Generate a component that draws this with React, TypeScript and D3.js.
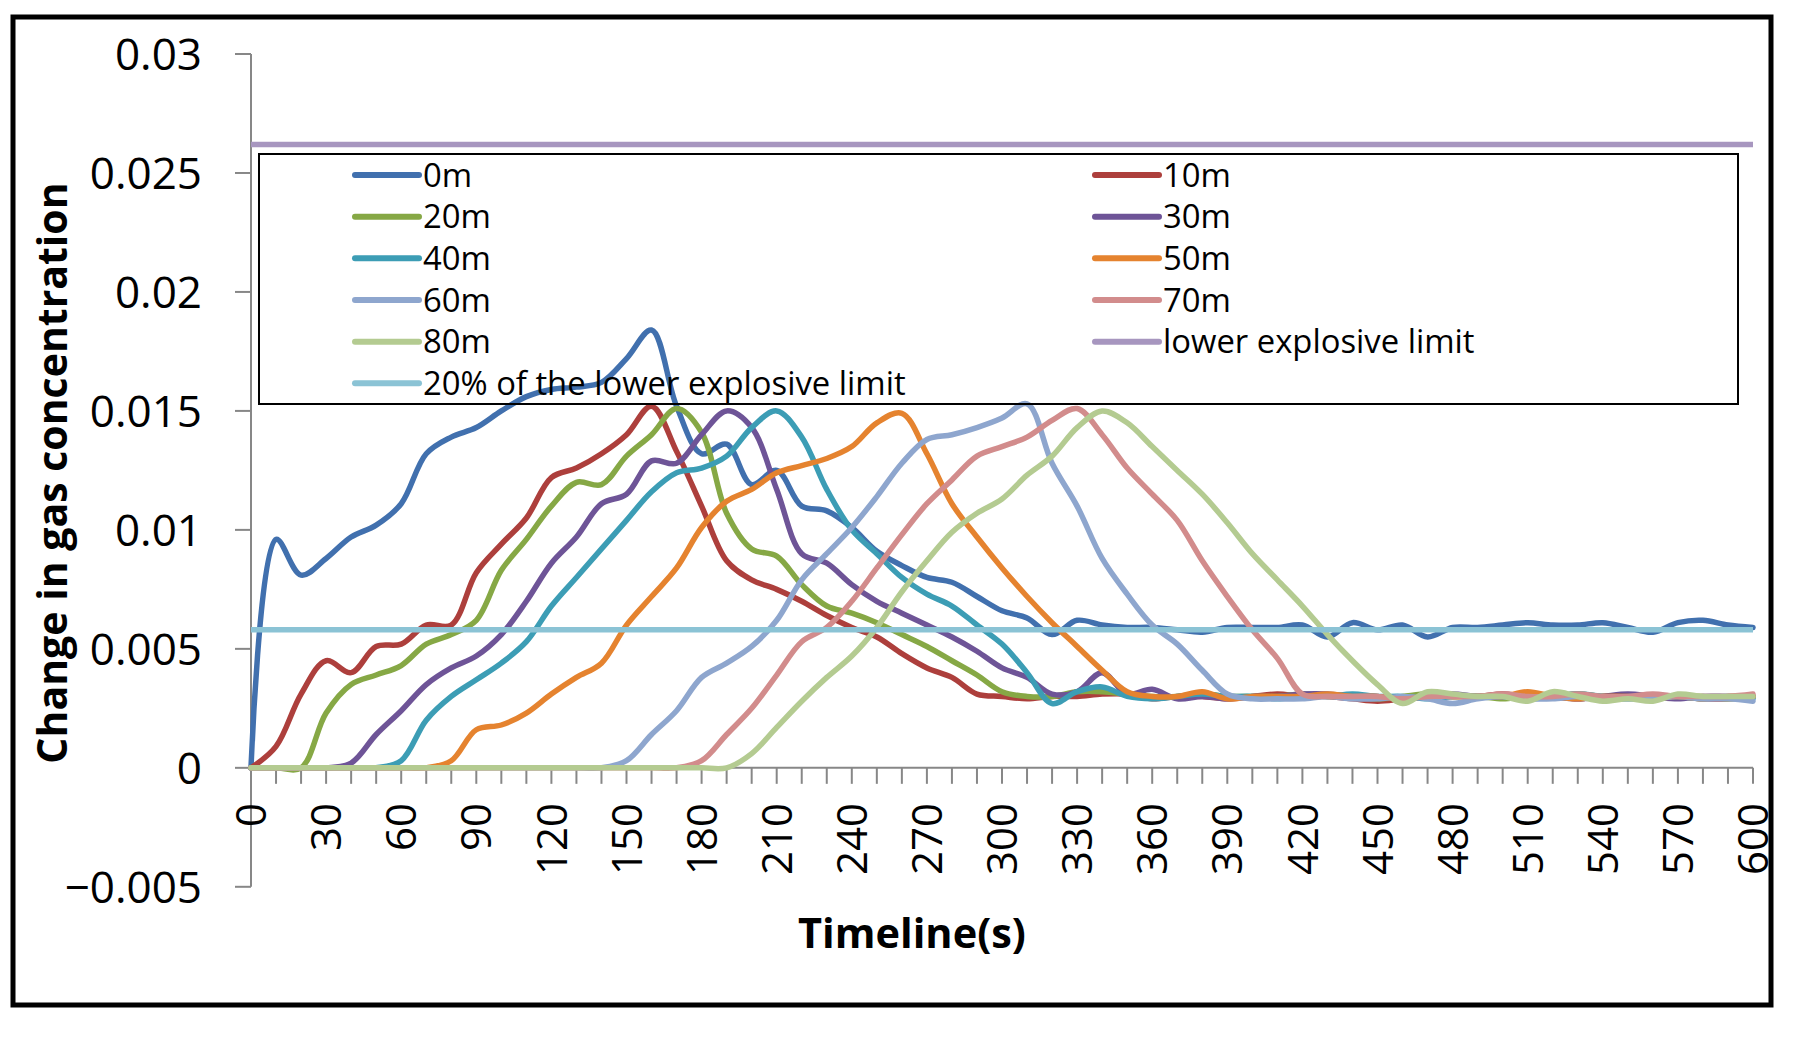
import React from 'react';
import * as d3 from 'd3';

const TIMES = [0, 10, 20, 30, 40, 50, 60, 70, 80, 90, 100, 110, 120, 130, 140, 150, 160, 170, 180, 190, 200, 210, 220, 230, 240, 250, 260, 270, 280, 290, 300, 310, 320, 330, 340, 350, 360, 370, 380, 390, 400, 410, 420, 430, 440, 450, 460, 470, 480, 490, 500, 510, 520, 530, 540, 550, 560, 570, 580, 590, 600];

const S_0M = [0, 0.0096, 0.0081, 0.0088, 0.0097, 0.0102, 0.0111, 0.0132, 0.0139, 0.0143, 0.0150, 0.0156, 0.0159, 0.0160, 0.0162, 0.0172, 0.0184, 0.0152, 0.0132, 0.0136, 0.0119, 0.0125, 0.0110, 0.0108, 0.0101, 0.0091, 0.0085, 0.0080, 0.0078, 0.0072, 0.0066, 0.0063, 0.0056, 0.0062, 0.0060, 0.0059, 0.0059, 0.0058, 0.0057, 0.0059, 0.0059, 0.0059, 0.0060, 0.0055, 0.0061, 0.0058, 0.0060, 0.0055, 0.0059, 0.0059, 0.0060, 0.0061, 0.0060, 0.0060, 0.0061, 0.0059, 0.0057, 0.0061, 0.0062, 0.0060, 0.0059];
const S_10M = [0, 0.0009, 0.0031, 0.0045, 0.0040, 0.0051, 0.0052, 0.0060, 0.0060, 0.0082, 0.0094, 0.0105, 0.0122, 0.0126, 0.0132, 0.0140, 0.0152, 0.0133, 0.0110, 0.0087, 0.0079, 0.0075, 0.0070, 0.0064, 0.0059, 0.0055, 0.0048, 0.0042, 0.0038, 0.0031, 0.0030, 0.0029, 0.0030, 0.0030, 0.0031, 0.0031, 0.0029, 0.0030, 0.0030, 0.0029, 0.0030, 0.0031, 0.0030, 0.0030, 0.0029, 0.0028, 0.0029, 0.0030, 0.0030, 0.0030, 0.0031, 0.0030, 0.0030, 0.0029, 0.0030, 0.0030, 0.0029, 0.0030, 0.0029, 0.0029, 0.0030];
const S_20M = [0, 0, 0, 0.0023, 0.0035, 0.0039, 0.0043, 0.0052, 0.0056, 0.0062, 0.0083, 0.0096, 0.0110, 0.0120, 0.0119, 0.0131, 0.0140, 0.0151, 0.0141, 0.0107, 0.0092, 0.0089, 0.0077, 0.0068, 0.0065, 0.0061, 0.0056, 0.0051, 0.0045, 0.0039, 0.0032, 0.0030, 0.0030, 0.0032, 0.0032, 0.0031, 0.0030, 0.0030, 0.0031, 0.0030, 0.0030, 0.0030, 0.0031, 0.0030, 0.0030, 0.0029, 0.0030, 0.0031, 0.0030, 0.0030, 0.0029, 0.0030, 0.0030, 0.0031, 0.0030, 0.0030, 0.0029, 0.0030, 0.0030, 0.0029, 0.0030];
const S_30M = [0, 0, 0, 0, 0.0002, 0.0014, 0.0024, 0.0035, 0.0042, 0.0047, 0.0056, 0.0070, 0.0086, 0.0097, 0.0111, 0.0115, 0.0129, 0.0128, 0.0140, 0.0150, 0.0143, 0.0117, 0.0090, 0.0086, 0.0077, 0.0070, 0.0065, 0.0060, 0.0055, 0.0049, 0.0042, 0.0038, 0.0031, 0.0032, 0.0040, 0.0031, 0.0033, 0.0029, 0.0030, 0.0029, 0.0030, 0.0030, 0.0031, 0.0031, 0.0030, 0.0030, 0.0029, 0.0030, 0.0031, 0.0030, 0.0030, 0.0031, 0.0030, 0.0029, 0.0030, 0.0031, 0.0030, 0.0029, 0.0030, 0.0030, 0.0030];
const S_40M = [0, 0, 0, 0, 0, 0, 0.0003, 0.0020, 0.0030, 0.0037, 0.0044, 0.0053, 0.0068, 0.0080, 0.0092, 0.0104, 0.0116, 0.0124, 0.0126, 0.0131, 0.0143, 0.0150, 0.0139, 0.0117, 0.0100, 0.0090, 0.0080, 0.0073, 0.0068, 0.0060, 0.0052, 0.0040, 0.0027, 0.0032, 0.0034, 0.0030, 0.0029, 0.0030, 0.0031, 0.0030, 0.0030, 0.0029, 0.0030, 0.0030, 0.0031, 0.0030, 0.0030, 0.0029, 0.0030, 0.0030, 0.0030, 0.0029, 0.0030, 0.0031, 0.0030, 0.0029, 0.0030, 0.0030, 0.0029, 0.0030, 0.0029];
const S_50M = [0, 0, 0, 0, 0, 0, 0, 0, 0.0003, 0.0016, 0.0018, 0.0023, 0.0031, 0.0038, 0.0044, 0.0060, 0.0072, 0.0084, 0.0101, 0.0112, 0.0117, 0.0124, 0.0127, 0.0130, 0.0135, 0.0145, 0.0149, 0.0132, 0.0111, 0.0097, 0.0084, 0.0072, 0.0061, 0.0051, 0.0041, 0.0032, 0.0030, 0.0030, 0.0032, 0.0029, 0.0030, 0.0030, 0.0030, 0.0031, 0.0030, 0.0030, 0.0029, 0.0030, 0.0030, 0.0030, 0.0030, 0.0032, 0.0030, 0.0029, 0.0030, 0.0030, 0.0029, 0.0030, 0.0029, 0.0030, 0.0030];
const S_60M = [0, 0, 0, 0, 0, 0, 0, 0, 0, 0, 0, 0, 0, 0, 0, 0.0003, 0.0014, 0.0024, 0.0038, 0.0044, 0.0051, 0.0062, 0.0079, 0.0090, 0.0101, 0.0114, 0.0128, 0.0138, 0.0140, 0.0143, 0.0147, 0.0153, 0.0128, 0.0110, 0.0088, 0.0073, 0.0060, 0.0052, 0.0041, 0.0031, 0.0029, 0.0029, 0.0029, 0.0030, 0.0029, 0.0029, 0.0030, 0.0029, 0.0027, 0.0029, 0.0030, 0.0029, 0.0029, 0.0030, 0.0029, 0.0029, 0.0029, 0.0030, 0.0029, 0.0029, 0.0028];
const S_70M = [0, 0, 0, 0, 0, 0, 0, 0, 0, 0, 0, 0, 0, 0, 0, 0, 0, 0, 0.0003, 0.0014, 0.0025, 0.0039, 0.0053, 0.0059, 0.0070, 0.0084, 0.0098, 0.0111, 0.0121, 0.0131, 0.0135, 0.0139, 0.0146, 0.0151, 0.0140, 0.0126, 0.0115, 0.0104, 0.0087, 0.0072, 0.0058, 0.0046, 0.0031, 0.0030, 0.0030, 0.0030, 0.0029, 0.0030, 0.0030, 0.0030, 0.0031, 0.0030, 0.0030, 0.0031, 0.0030, 0.0030, 0.0031, 0.0030, 0.0030, 0.0030, 0.0031];
const S_80M = [0, 0, 0, 0, 0, 0, 0, 0, 0, 0, 0, 0, 0, 0, 0, 0, 0, 0, 0, 0, 0.0006, 0.0017, 0.0028, 0.0038, 0.0047, 0.0059, 0.0074, 0.0087, 0.0099, 0.0107, 0.0113, 0.0123, 0.0131, 0.0143, 0.0150, 0.0145, 0.0135, 0.0125, 0.0115, 0.0103, 0.0090, 0.0079, 0.0068, 0.0056, 0.0045, 0.0035, 0.0027, 0.0032, 0.0031, 0.0030, 0.0030, 0.0028, 0.0032, 0.0030, 0.0028, 0.0029, 0.0028, 0.0031, 0.0030, 0.0030, 0.0030];

const LEL_VALUE = 0.0262;
const LEL20_VALUE = 0.0058;

const SERIES_NAMES = ['0m', '10m', '20m', '30m', '40m', '50m', '60m', '70m', '80m'];
const SERIES_VALUES = [S_0M, S_10M, S_20M, S_30M, S_40M, S_50M, S_60M, S_70M, S_80M];
const SERIES_COLORS = ['#4170ae', '#ad3f3c', '#86a845', '#6e5497', '#3c9db5', '#e5832f', '#8ea6ce', '#d28c8c', '#b4cb91'];
const LEL_NAME = 'lower explosive limit';
const LEL20_NAME = '20% of the lower explosive limit';
const LEL_COLOR = '#a796bf';
const LEL20_COLOR = '#8bc3d5';

const Y_TICKS = [-0.005, 0, 0.005, 0.01, 0.015, 0.02, 0.025, 0.03];
const Y_TICK_LABELS = ['\u22120.005', '0', '0.005', '0.01', '0.015', '0.02', '0.025', '0.03'];
const X_MINOR_TICKS = [0, 10, 20, 30, 40, 50, 60, 70, 80, 90, 100, 110, 120, 130, 140, 150, 160, 170, 180, 190, 200, 210, 220, 230, 240, 250, 260, 270, 280, 290, 300, 310, 320, 330, 340, 350, 360, 370, 380, 390, 400, 410, 420, 430, 440, 450, 460, 470, 480, 490, 500, 510, 520, 530, 540, 550, 560, 570, 580, 590, 600];
const X_LABEL_TICKS = [0, 30, 60, 90, 120, 150, 180, 210, 240, 270, 300, 330, 360, 390, 420, 450, 480, 510, 540, 570, 600];

const X_TITLE = 'Timeline(s)';
const Y_TITLE = 'Change in gas concentration';

const FONT = "'Open Sans', 'DejaVu Sans', sans-serif";
const AXIS_COLOR = '#878787';

export default function App() {
  const W = 1793;
  const H = 1040;
  const x = d3.scaleLinear().domain([0, 600]).range([251, 1753]);
  const y = d3.scaleLinear().domain([-0.005, 0.03]).range([886.8, 54]);
  const y0 = y(0);

  const line = d3
    .line<number>()
    .x((_, i) => x(TIMES[i]))
    .y((d) => y(d))
    .curve(d3.curveCatmullRom.alpha(0.5));

  const flat = d3
    .line<number>()
    .x((d) => x(d))
    .y(() => 0);

  const legendItems = [
    ...SERIES_NAMES.map((n, i) => ({ name: n, color: SERIES_COLORS[i] })),
    { name: LEL_NAME, color: LEL_COLOR },
    { name: LEL20_NAME, color: LEL20_COLOR },
  ];

  const legendColX = [355, 1095];
  const legendRowY0 = 175;
  const legendRowStep = 41.66;
  const legendLineLen = 64;

  return (
    <div style={{ position: 'absolute', left: 0, top: 0 }}>
      <svg width={W} height={H} viewBox={`0 0 ${W} ${H}`} style={{ display: 'block', background: '#fff' }}>
        <rect x={0} y={0} width={W} height={H} fill="#fff" />
        <rect x={13} y={17} width={1758} height={988} fill="none" stroke="#000" strokeWidth={5} />

        {/* y axis */}
        <line x1={x(0)} x2={x(0)} y1={y(0.03)} y2={y(-0.005)} stroke={AXIS_COLOR} strokeWidth={2} />
        {Y_TICKS.map((t, i) => (
          <g key={`yt${i}`}>
            <line x1={x(0) - 16} x2={x(0)} y1={y(t)} y2={y(t)} stroke={AXIS_COLOR} strokeWidth={2} />
            <text
              x={202}
              y={y(t)}
              dy="0.36em"
              textAnchor="end"
              fontFamily={FONT}
              fontSize={44}
              fill="#000"
            >
              {Y_TICK_LABELS[i]}
            </text>
          </g>
        ))}

        {/* x axis */}
        <line x1={x(0)} x2={x(600)} y1={y0} y2={y0} stroke={AXIS_COLOR} strokeWidth={2} />
        {X_MINOR_TICKS.map((t) => (
          <line key={`xm${t}`} x1={x(t)} x2={x(t)} y1={y0} y2={y0 + 16} stroke={AXIS_COLOR} strokeWidth={2} />
        ))}
        {X_LABEL_TICKS.map((t) => (
          <text
            key={`xl${t}`}
            transform={`translate(${x(t)},803) rotate(-90)`}
            dy="0.36em"
            textAnchor="end"
            fontFamily={FONT}
            fontSize={42}
            fill="#000"
          >
            {t}
          </text>
        ))}

        {/* titles */}
        <text x={912} y={948} textAnchor="middle" fontFamily={FONT} fontSize={41.5} fontWeight="bold" fill="#000">
          {X_TITLE}
        </text>
        <text
          transform={`translate(67,473) rotate(-90)`}
          textAnchor="middle"
          fontFamily={FONT}
          fontSize={41}
          fontWeight="bold"
          fill="#000"
        >
          {Y_TITLE}
        </text>

        {/* series */}
        {SERIES_VALUES.map((vals, i) => (
          <path
            key={`s${i}`}
            d={line(vals) || ''}
            fill="none"
            stroke={SERIES_COLORS[i]}
            strokeWidth={5.5}
            strokeLinejoin="round"
            strokeLinecap="round"
          />
        ))}
        <path
          d={flat([0, 600]) || ''}
          transform={`translate(0,${y(LEL_VALUE)})`}
          fill="none"
          stroke={LEL_COLOR}
          strokeWidth={5.5}
        />
        <path
          d={flat([0, 600]) || ''}
          transform={`translate(0,${y(LEL20_VALUE)})`}
          fill="none"
          stroke={LEL20_COLOR}
          strokeWidth={5.5}
        />

        {/* legend */}
        <rect x={259} y={154} width={1479} height={250} fill="none" stroke="#000" strokeWidth={2} />
        {legendItems.map((it, i) => {
          const col = i % 2;
          const row = Math.floor(i / 2);
          const lx = legendColX[col];
          const ly = legendRowY0 + row * legendRowStep;
          return (
            <g key={`lg${i}`}>
              <line
                x1={lx}
                x2={lx + legendLineLen}
                y1={ly}
                y2={ly}
                stroke={it.color}
                strokeWidth={6}
                strokeLinecap="round"
              />
              <text x={lx + legendLineLen + 4} y={ly} dy="0.36em" fontFamily={FONT} fontSize={32.8} fill="#000">
                {it.name}
              </text>
            </g>
          );
        })}
      </svg>
    </div>
  );
}
